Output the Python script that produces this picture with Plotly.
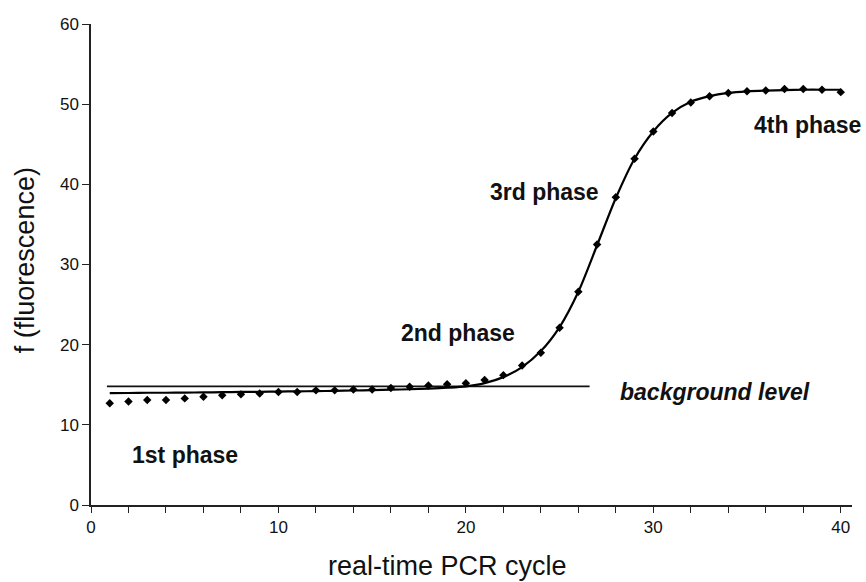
import plotly.graph_objects as go

# ---- data ----
cycles = list(range(1, 41))
fluorescence = [12.7, 12.9, 13.1, 13.1, 13.3, 13.5, 13.7, 13.8, 13.9, 14.1,
                14.1, 14.3, 14.3, 14.4, 14.4, 14.6, 14.75, 14.9, 15.05, 15.2,
                15.6, 16.2, 17.4, 19.0, 22.1, 26.6, 32.5, 38.4, 43.2, 46.6,
                48.9, 50.2, 51.0, 51.4, 51.6, 51.7, 51.9, 51.9, 51.8, 51.5]

fit_cycles = list(range(1, 41))
fit_values = [13.95, 13.97, 14.0, 14.0, 14.02, 14.05, 14.07, 14.1, 14.12, 14.15,
              14.18, 14.2, 14.24, 14.28, 14.32, 14.38, 14.44, 14.52, 14.63, 14.8,
              15.2, 15.95, 17.2, 19.2, 22.2, 26.6, 32.4, 38.3, 43.2, 46.6,
              48.9, 50.3, 51.0, 51.4, 51.6, 51.7, 51.75, 51.8, 51.8, 51.8]

background_x = [0.85, 26.6]
background_level = [14.8, 14.8]

phase_labels = ["1st phase", "2nd phase", "3rd phase", "4th phase"]
phase_x = [5.0, 19.6, 24.2, 38.2]
phase_y = [6.2, 21.4, 39.0, 47.4]

x_tick_vals = [0, 10, 20, 30, 40]
y_tick_vals = [0, 10, 20, 30, 40, 50, 60]

FONT = "Liberation Sans, Arial, sans-serif"

fig = go.Figure()

fig.add_trace(go.Scatter(
    x=background_x, y=background_level, mode="lines",
    line=dict(color="#111111", width=1.6), hoverinfo="skip", showlegend=False))

fig.add_trace(go.Scatter(
    x=fit_cycles, y=fit_values, mode="lines",
    line=dict(color="#000000", width=2.2, shape="spline", smoothing=0.8),
    showlegend=False))

fig.add_trace(go.Scatter(
    x=cycles, y=fluorescence, mode="markers",
    marker=dict(symbol="diamond", size=6.5, color="#000000"),
    showlegend=False))

for lab, px, py in zip(phase_labels, phase_x, phase_y):
    fig.add_annotation(x=px, y=py, text="<b>%s</b>" % lab, showarrow=False,
                       font=dict(family=FONT, size=23, color="#111111"))

fig.add_annotation(x=33.3, y=14.1, text="<b><i>background level</i></b>",
                   showarrow=False, font=dict(family=FONT, size=23, color="#111111"))

# axis titles as annotations for precise placement
fig.add_annotation(xref="paper", yref="paper", x=0.468, y=0, yanchor="middle",
                   yshift=-61, text="real-time PCR cycle", showarrow=False,
                   font=dict(family=FONT, size=27, color="#111111"))
fig.add_annotation(xref="paper", yref="paper", x=0, y=0.509, xanchor="center",
                   xshift=-66, text="f (fluorescence)", textangle=-90, showarrow=False,
                   font=dict(family=FONT, size=27, color="#111111"))

fig.update_xaxes(
    range=[0, 40.6], showgrid=False, zeroline=False,
    showline=True, linecolor="#222222", linewidth=1.5,
    tickmode="array", tickvals=x_tick_vals, ticks="outside", ticklen=6,
    tickwidth=1.3, tickcolor="#222222",
    minor=dict(dtick=2, tick0=0, ticks="outside", ticklen=6, tickwidth=1.3,
               tickcolor="#222222", showgrid=False),
    tickfont=dict(family=FONT, size=17, color="#111111"),
)
fig.update_yaxes(
    range=[0, 60], showgrid=False, zeroline=False,
    showline=True, linecolor="#222222", linewidth=1.5,
    tickmode="array", tickvals=y_tick_vals, ticks="outside", ticklen=7,
    tickwidth=1.3, tickcolor="#222222",
    tickfont=dict(family=FONT, size=17, color="#111111"),
)

fig.update_layout(
    width=866, height=582,
    margin=dict(l=91, r=14, t=24, b=77),
    paper_bgcolor="white", plot_bgcolor="white",
    showlegend=False,
)

fig.write_html("out.html")
